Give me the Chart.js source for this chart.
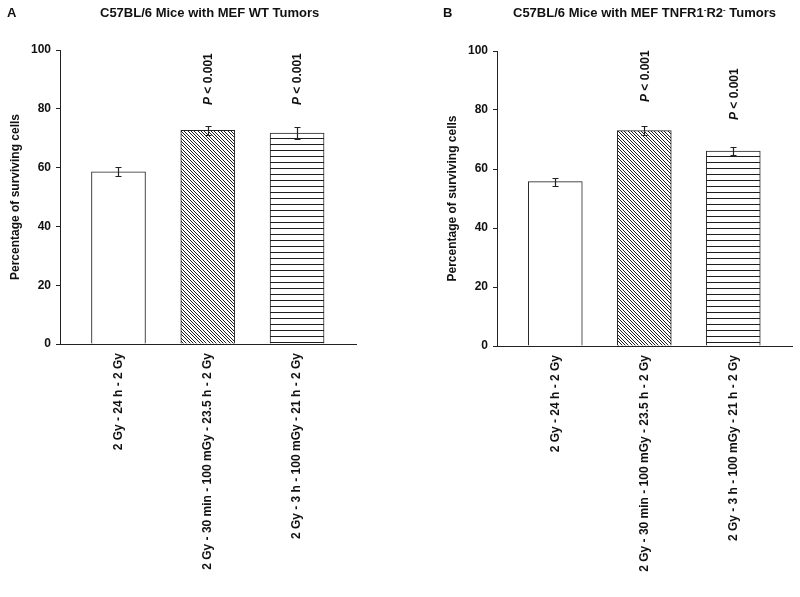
<!DOCTYPE html>
<html>
<head>
<meta charset="utf-8">
<script src="https://cdn.jsdelivr.net/npm/chart.js@4.4.0/dist/chart.umd.min.js"></script>
<style>
body { margin: 0; background: #fff; }
#wrap { position: relative; width: 800px; height: 597px; font-family: "Liberation Sans", Arial, sans-serif; font-weight: bold; color: #111; }
canvas { position: absolute; top: 0; }
.lbl { position: absolute; font-size: 13px; line-height: 16px; white-space: nowrap; }
sup { font-size: 8px; line-height: 0; vertical-align: 5px; }
</style>
</head>
<body>
<div id="wrap">
  <canvas id="chartA" width="400" height="597" style="left:0"></canvas>
  <canvas id="chartB" width="400" height="597" style="left:400px"></canvas>
  <div class="lbl" style="left:7px;top:5px">A</div>
  <div class="lbl" style="left:100px;top:5px">C57BL/6 Mice with MEF WT Tumors</div>
  <div class="lbl" style="left:443px;top:5px">B</div>
  <div class="lbl" style="left:513px;top:5px">C57BL/6 Mice with MEF TNFR1<sup>-</sup>R2<sup>-</sup> Tumors</div>
</div>
<script>
const categories = [
    '2 Gy - 24 h - 2 Gy',
    '2 Gy - 30 min - 100 mGy - 23.5 h - 2 Gy',
    '2 Gy - 3 h - 100 mGy - 21 h - 2 Gy'
];

// panel A: MEF WT tumors
const wtValues = [58.6, 72.7, 71.7];
const wtErrors = [1.6, 1.6, 2.0];

// panel B: MEF TNFR1-R2- tumors
const koValues = [55.7, 73.0, 66.1];
const koErrors = [1.4, 1.6, 1.3];

const pLabels = ['', '< 0.001', '< 0.001'];
const yTicks = [0, 20, 40, 60, 80, 100];

const fontFamily = '"Liberation Sans", Arial, sans-serif';
const ink = '#222';

function makePattern(kind) {
    const c = document.createElement('canvas');
    const size = kind === 'diag' ? 10 : 6;
    c.width = size;
    c.height = size;
    const g = c.getContext('2d');
    g.fillStyle = '#fff';
    g.fillRect(0, 0, size, size);
    g.fillStyle = '#1e1e1e';
    if (kind === 'diag') {
        // "\" hatching, three lines per tile, pixel aligned
        for (let i = 0; i < size; i++) {
            [0, 3, 7].forEach(function(off) {
                g.fillRect((i + off) % size, i, 1, 1);
            });
        }
    } else {
        g.fillRect(0, 0, size, 1);
    }
    return g.createPattern(c, 'repeat');
}

const fills = ['#fff', makePattern('diag'), makePattern('horiz')];

const errorBars = {
    id: 'errorBars',
    afterDatasetsDraw(chart, args, opts) {
        const {ctx, scales: {y}} = chart;
        const meta = chart.getDatasetMeta(0);
        ctx.save();
        ctx.strokeStyle = ink;
        ctx.lineWidth = 1.2;
        meta.data.forEach(function(bar, i) {
            const v = opts.values[i];
            const e = opts.errors[i];
            const x = Math.round(bar.x) + 0.5;
            const top = Math.round(y.getPixelForValue(v + e)) + 0.5;
            const bot = Math.round(y.getPixelForValue(v - e)) + 0.5;
            ctx.beginPath();
            ctx.moveTo(x, top); ctx.lineTo(x, bot);
            ctx.moveTo(x - 3, top); ctx.lineTo(x + 3, top);
            ctx.moveTo(x - 3, bot); ctx.lineTo(x + 3, bot);
            ctx.stroke();

            if (pLabels[i]) {
                const base = y.getPixelForValue(opts.labelBase[i]);
                ctx.save();
                ctx.translate(bar.x + 1, base);
                ctx.rotate(-Math.PI / 2);
                ctx.fillStyle = '#111';
                ctx.textAlign = 'left';
                ctx.textBaseline = 'middle';
                ctx.font = 'italic bold 12px ' + fontFamily;
                ctx.fillText('P', 0, 0);
                const w = ctx.measureText('P ').width;
                ctx.font = 'bold 12px ' + fontFamily;
                ctx.fillText(pLabels[i], w, 0);
                ctx.restore();
            }
        });
        ctx.restore();
    }
};

function makeChart(id, values, errors, layout) {
    const ctx = document.getElementById(id).getContext('2d');
    return new Chart(ctx, {
        type: 'bar',
        data: {
            datasets: [{
                data: values.map(function(v, i) { return {x: i + 1, y: v}; }),
                backgroundColor: fills,
                borderColor: ink,
                borderWidth: 1,
                borderSkipped: 'bottom',
                barThickness: 54
            }]
        },
        plugins: [errorBars],
        options: {
            responsive: false,
            animation: false,
            layout: {
                padding: {top: layout.top, right: layout.right, bottom: 0, left: 0}
            },
            scales: {
                x: {
                    type: 'linear',
                    offset: false,
                    min: 0.345,
                    max: 3.66,
                    grid: {display: false, drawTicks: false},
                    border: {display: true, color: ink, width: 1},
                    afterFit: function(scale) { scale.height = 597 - layout.bottom; },
                    afterBuildTicks: function(scale) {
                        scale.ticks = categories.map(function(c, i) { return {value: i + 1}; });
                    },
                    ticks: {
                        autoSkip: false,
                        minRotation: 90,
                        maxRotation: 90,
                        padding: 9,
                        color: '#111',
                        font: {family: fontFamily, size: 12, weight: 'bold'},
                        callback: function(v) { return categories[v - 1]; }
                    }
                },
                y: {
                    min: 0,
                    max: 100,
                    afterFit: function(scale) { scale.width = layout.left; },
                    afterBuildTicks: function(scale) {
                        scale.ticks = yTicks.map(function(t) { return {value: t}; });
                    },
                    grid: {drawOnChartArea: false, drawTicks: true, tickLength: 4, color: ink},
                    border: {display: true, color: ink, width: 1},
                    ticks: {
                        padding: 5,
                        color: '#111',
                        font: {family: fontFamily, size: 12, weight: 'bold'}
                    },
                    title: {
                        display: true,
                        text: 'Percentage of surviving cells',
                        color: '#111',
                        padding: {top: layout.titlePad, bottom: 0},
                        font: {family: fontFamily, size: 12, weight: 'bold'}
                    }
                }
            },
            plugins: {
                legend: {display: false},
                tooltip: {enabled: false},
                errorBars: {values: values, errors: errors, labelBase: layout.labelBase}
            }
        }
    });
}

makeChart('chartA', wtValues, wtErrors, {
    left: 60, right: 44, top: 50, bottom: 344, titlePad: 8, labelBase: [0, 81.3, 81.3]
});
makeChart('chartB', koValues, koErrors, {
    left: 97, right: 8, top: 51, bottom: 346, titlePad: 45, labelBase: [0, 82.7, 76.6]
});
</script>
</body>
</html>
